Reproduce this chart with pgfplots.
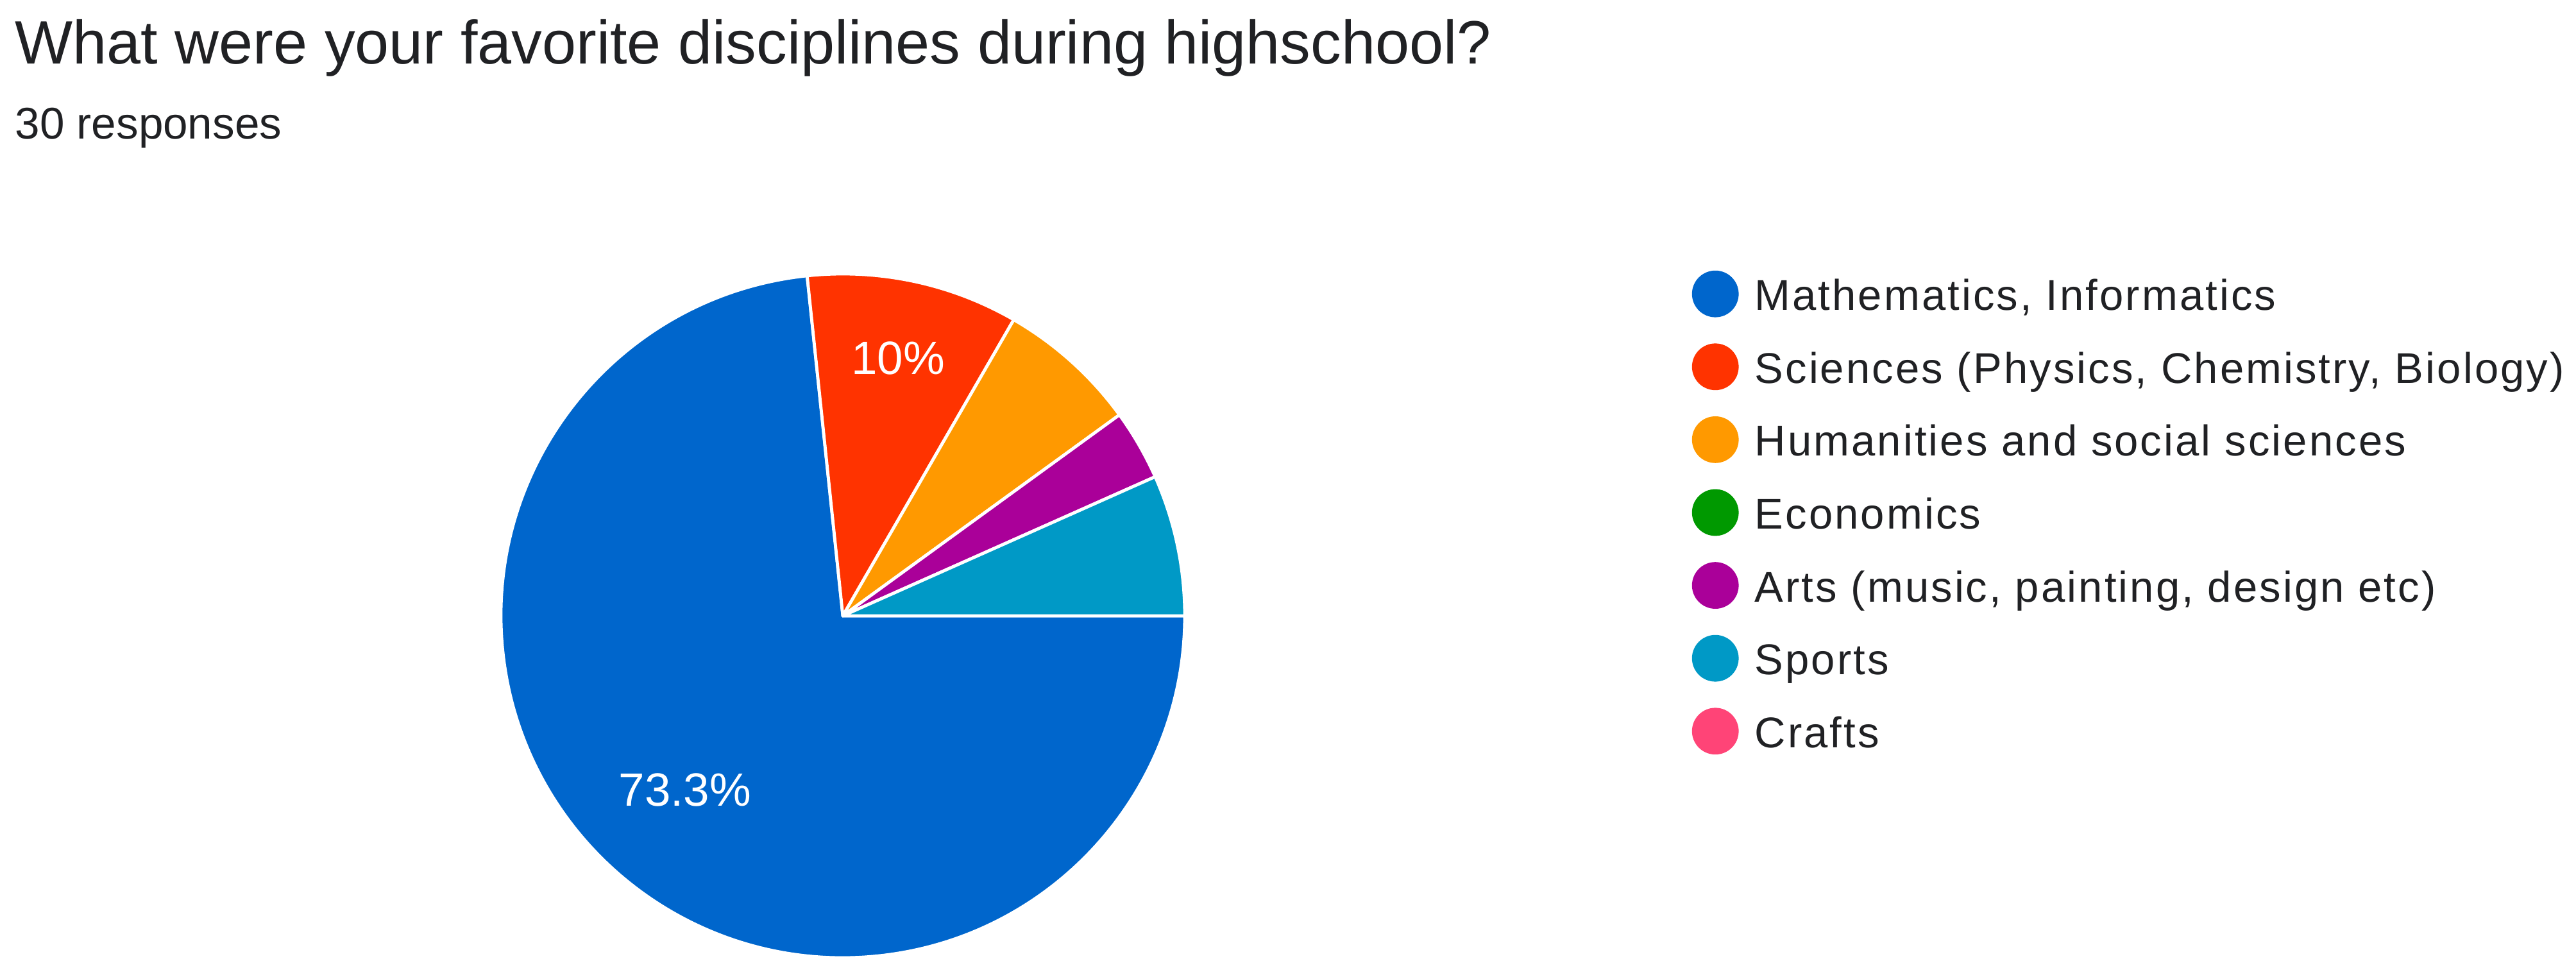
\documentclass[border=0pt]{standalone}
\usepackage{pgfplots}
\pgfplotsset{compat=1.18}
\usepackage{fontspec}
\setmainfont{Liberation Sans}
\newfontfamily\legfont[LetterSpace=4.6]{Liberation Sans}
\definecolor{cMath}{HTML}{0066CC}
\definecolor{cSci}{HTML}{FF3300}
\definecolor{cHum}{HTML}{FF9900}
\definecolor{cEco}{HTML}{009900}
\definecolor{cArt}{HTML}{AA0099}
\definecolor{cSpo}{HTML}{0099C6}
\definecolor{cCra}{HTML}{FF4477}
\definecolor{txt}{HTML}{202124}
\begin{document}
\begin{tikzpicture}
% responses per discipline (of 30)
\def\vMath{22}\def\vSci{3}\def\vHum{2}\def\vEco{0}\def\vArt{1}\def\vSpo{2}\def\vCra{0}
\pgfmathsetmacro\bA{360}
\pgfmathsetmacro\bB{\bA-\vMath*12}
\pgfmathsetmacro\bC{\bB-\vSci*12}
\pgfmathsetmacro\bD{\bC-\vHum*12}
\pgfmathsetmacro\bE{\bD-\vEco*12}
\pgfmathsetmacro\bF{\bE-\vArt*12}
\pgfmathsetmacro\bG{\bF-\vSpo*12}
\def\R{133.25pt}
\begin{axis}[name=ax,width=1004pt,height=377.25pt,scale only axis,hide axis,
  xmin=0,xmax=4016,ymin=0,ymax=1509,clip=false,
  legend style={at={(axis cs:2637,1088)},anchor=north west,draw=none,fill=none,
    inner sep=0pt,row sep=9.4pt,font=\legfont\fontsize{16.76}{20}\selectfont,text=txt,
    nodes={inner sep=0pt,text height=12pt,text depth=3.5pt},
    /tikz/every odd column/.append style={column sep=6.25pt}},
  legend cell align=left]
\path (axis cs:0,0) rectangle (axis cs:4016,1509);
\fill[cMath,draw=white,line width=1.2pt,line join=round] (axis cs:1314,549) -- ++(\bB:\R) arc[start angle=\bB,end angle=\bA,radius=\R] -- cycle;
\fill[cSci,draw=white,line width=1.2pt,line join=round] (axis cs:1314,549) -- ++(\bC:\R) arc[start angle=\bC,end angle=\bB,radius=\R] -- cycle;
\fill[cHum,draw=white,line width=1.2pt,line join=round] (axis cs:1314,549) -- ++(\bD:\R) arc[start angle=\bD,end angle=\bC,radius=\R] -- cycle;
\fill[cArt,draw=white,line width=1.2pt,line join=round] (axis cs:1314,549) -- ++(\bF:\R) arc[start angle=\bF,end angle=\bE,radius=\R] -- cycle;
\fill[cSpo,draw=white,line width=1.2pt,line join=round] (axis cs:1314,549) -- ++(\bG:\R) arc[start angle=\bG,end angle=\bF,radius=\R] -- cycle;
\node[anchor=base,text=white,font=\fontsize{18.2}{20}\selectfont,inner sep=0pt] at (axis cs:1400,925) {10\%};
\node[anchor=base,text=white,font=\fontsize{18.2}{20}\selectfont,inner sep=0pt] at (axis cs:1068,252) {73.3\%};
\node[anchor=base west,text=txt,font=\fontsize{23.85}{28}\selectfont,inner sep=0pt] at (axis cs:23,1409) {What were your favorite disciplines during highschool?};
\node[anchor=base west,text=txt,font=\fontsize{17.3}{20}\selectfont,inner sep=0pt] at (axis cs:23,1292) {30 responses};
\addlegendimage{legend image code/.code={\fill[cMath] (0pt,2.15pt) circle[radius=8.9pt];}}
\addlegendentry{Mathematics, Informatics}
\addlegendimage{legend image code/.code={\fill[cSci] (0pt,2.15pt) circle[radius=8.9pt];}}
\addlegendentry{Sciences (Physics, Chemistry, Biology)}
\addlegendimage{legend image code/.code={\fill[cHum] (0pt,2.15pt) circle[radius=8.9pt];}}
\addlegendentry{Humanities and social sciences}
\addlegendimage{legend image code/.code={\fill[cEco] (0pt,2.15pt) circle[radius=8.9pt];}}
\addlegendentry{Economics}
\addlegendimage{legend image code/.code={\fill[cArt] (0pt,2.15pt) circle[radius=8.9pt];}}
\addlegendentry{Arts (music, painting, design etc)}
\addlegendimage{legend image code/.code={\fill[cSpo] (0pt,2.15pt) circle[radius=8.9pt];}}
\addlegendentry{Sports}
\addlegendimage{legend image code/.code={\fill[cCra] (0pt,2.15pt) circle[radius=8.9pt];}}
\addlegendentry{Crafts}
\end{axis}
\pgfresetboundingbox
\path (ax.south west) rectangle (ax.north east);
\end{tikzpicture}
\end{document}
